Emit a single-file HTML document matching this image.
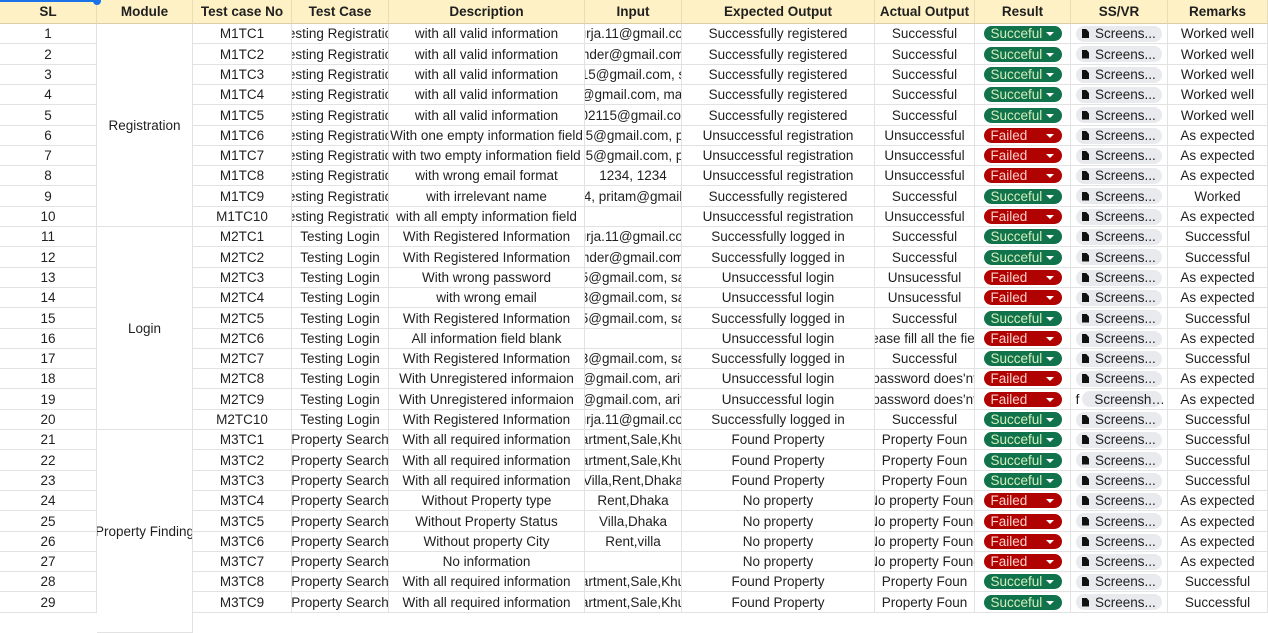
<!DOCTYPE html>
<html><head><meta charset="utf-8">
<style>
html,body{margin:0;padding:0;background:#fff;}
body{width:1268px;height:616px;overflow:hidden;position:relative;font-family:"Liberation Sans",Arial,sans-serif;font-size:13.5px;color:#1f1f1f;}
.c{position:absolute;display:flex;align-items:center;justify-content:center;overflow:hidden;white-space:nowrap;box-sizing:border-box;border-right:1px solid #e2e2e2;border-bottom:1px solid #e2e2e2;}
.h{background:#fdf1c5;font-weight:bold;color:#1f1f1f;border-right:1px solid #e6dcb5;border-bottom:1px solid #d8cfa8;}
.pill{width:78px;height:15px;border-radius:8px;display:flex;align-items:center;box-sizing:border-box;padding-left:7px;font-size:13.5px;position:relative;flex:none;}
.pill.g{background:#11734b;color:#d4edbc;}
.pill.r{background:#b10202;color:#ffcfc9;}
.pill:after{content:"";position:absolute;right:8px;top:6px;border-left:4px solid transparent;border-right:4px solid transparent;border-top:4px solid #fff;}
.chip{width:86px;height:16px;border-radius:8px;background:#e8eaed;display:flex;align-items:center;box-sizing:border-box;padding-left:6px;font-size:13.5px;color:#1f1f1f;flex:none;}
.doc{width:7px;height:9px;background:#111;margin-right:6px;clip-path:polygon(0 0,60% 0,100% 35%,100% 100%,0 100%);}
</style></head><body>
<script>
const X=[0,97,193,292,389,585,682,875,975,1071,1168,1268];
const H=["SL","Module","Test case No","Test Case","Description","Input","Expected Output","Actual Output","Result","SS/VR","Remarks"];
const TR="esting Registratio",TL="Testing Login",PS="Property Search";
const SR="Successfully registered",UR="Unsuccessful registration",SL="Successfully logged in",UL="Unsuccessful login";
const D=[
["M1TC1",TR,"with all valid information","urja.11@gmail.cor",SR,"Successful",1,"Worked well"],
["M1TC2",TR,"with all valid information","nder@gmail.com",SR,"Successful",1,"Worked well"],
["M1TC3",TR,"with all valid information","15@gmail.com, s",SR,"Successful",1,"Worked well"],
["M1TC4",TR,"with all valid information","@gmail.com, mai",SR,"Successful",1,"Worked well"],
["M1TC5",TR,"with all valid information","02115@gmail.cor",SR,"Successful",1,"Worked well"],
["M1TC6",TR,"With one empty information field","l5@gmail.com, p",UR,"Unsuccessful",0,"As expected"],
["M1TC7",TR,"with two empty information field","l5@gmail.com, p",UR,"Unsuccessful",0,"As expected"],
["M1TC8",TR,"with wrong email format","1234, 1234",UR,"Unsuccessful",0,"As expected"],
["M1TC9",TR,"with irrelevant name","4, pritam@gmail",SR,"Successful",1,"Worked"],
["M1TC10",TR,"with all empty information field","",UR,"Unsuccessful",0,"As expected"],
["M2TC1",TL,"With Registered Information","urja.11@gmail.cor",SL,"Successful",1,"Successful"],
["M2TC2",TL,"With Registered Information","nder@gmail.com",SL,"Successful",1,"Successful"],
["M2TC3",TL,"With wrong password","5@gmail.com, sa",UL,"Unsucessful",0,"As expected"],
["M2TC4",TL,"with wrong email","3@gmail.com, sa",UL,"Unsucessful",0,"As expected"],
["M2TC5",TL,"With Registered Information","5@gmail.com, sa",SL,"Successful",1,"Successful"],
["M2TC6",TL,"All information field blank","",UL,"ease fill all the fiel",0,"As expected"],
["M2TC7",TL,"With Registered Information","3@gmail.com, sa",SL,"Successful",1,"Successful"],
["M2TC8",TL,"With Unregistered informaion","@gmail.com, arif",UL,"password does'nt",0,"As expected"],
["M2TC9",TL,"With Unregistered informaion","@gmail.com, arif",UL,"password does'nt",0,"As expected",1],
["M2TC10",TL,"With Registered Information","urja.11@gmail.cor",SL,"Successful",1,"Successful"],
["M3TC1",PS,"With all required information","artment,Sale,Khu","Found Property","Property Foun",1,"Successful"],
["M3TC2",PS,"With all required information","artment,Sale,Khu","Found Property","Property Foun",1,"Successful"],
["M3TC3",PS,"With all required information","Villa,Rent,Dhaka","Found Property","Property Foun",1,"Successful"],
["M3TC4",PS,"Without Property type","Rent,Dhaka","No property","No property Found",0,"As expected"],
["M3TC5",PS,"Without Property Status","Villa,Dhaka","No property","No property Found",0,"As expected"],
["M3TC6",PS,"Without property City","Rent,villa","No property","No property Found",0,"As expected"],
["M3TC7",PS,"No information","","No property","No property Found",0,"As expected"],
["M3TC8",PS,"With all required information","artment,Sale,Khu","Found Property","Property Foun",1,"Successful"],
["M3TC9",PS,"With all required information","artment,Sale,Khu","Found Property","Property Foun",1,"Successful"]];
let s="";
function cell(ci,y,h,html,cls){s+=`<div class="c ${cls||""}" style="left:${X[ci]}px;top:${y}px;width:${X[ci+1]-X[ci]}px;height:${h}px">${html}</div>`;}
H.forEach((t,i)=>cell(i,0,24,t,"h"));
const P=20.3;
D.forEach((r,i)=>{
 const y=Math.round(24+i*P), h=Math.round(24+(i+1)*P)-y;
 cell(0,y,h,String(i+1));
 cell(2,y,h,r[0]);cell(3,y,h,r[1]);cell(4,y,h,r[2]);cell(5,y,h,r[3]);cell(6,y,h,r[4]);cell(7,y,h,r[5]);
 cell(8,y,h,r[6]?'<div class="pill g">Succeful</div>':'<div class="pill r">Failed</div>');
 cell(9,y,h,r[8]?'<span style="margin-right:3px">f</span><div class="chip" style="width:80px"><div class="doc"></div>Screensh…</div>':'<div class="chip"><div class="doc"></div>Screens...</div>');
 cell(10,y,h,r[7]);
});
const y1=24,y2=Math.round(24+10*P),y3=Math.round(24+20*P);
cell(1,y1,y2-y1,"Registration");
cell(1,y2,y3-y2,"Login");
cell(1,y3,Math.round(24+30*P)-y3,"Property Finding");
document.write(s);
</script>
<div style="position:absolute;left:93px;top:-3px;width:8px;height:8px;border-radius:50%;background:#1a73e8"></div>
<div style="position:absolute;left:0;top:0;width:97px;height:2px;background:#1a73e8"></div>
</body></html>
